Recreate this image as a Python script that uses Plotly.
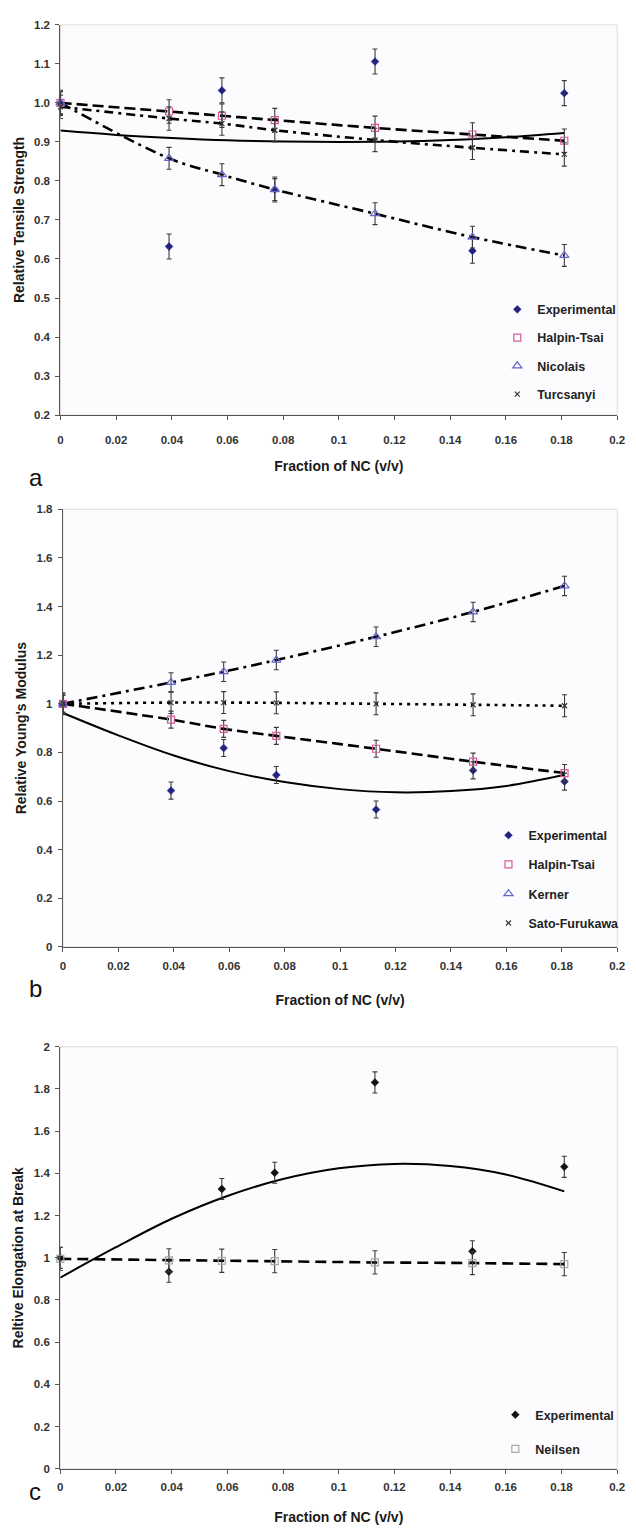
import plotly.graph_objects as go

# ---------------- data ----------------
x_frac = [0, 0.039, 0.058, 0.077, 0.113, 0.148, 0.181]
x_ticks = [0, 0.02, 0.04, 0.06, 0.08, 0.1, 0.12, 0.14, 0.16, 0.18, 0.2]

# panel a: Relative tensile strength
a_experimental = [1.0, 0.632, 1.032, 0.778, 1.106, 0.621, 1.025]
a_halpin_tsai = [1.0, 0.978, 0.967, 0.956, 0.936, 0.919, 0.903]
a_nicolais = [1.0, 0.858, 0.816, 0.778, 0.716, 0.656, 0.609]
a_turcsanyi = [0.99, 0.960, 0.947, 0.930, 0.905, 0.885, 0.868]
a_trend_x = [0, 0.02, 0.04, 0.06, 0.08, 0.10, 0.12, 0.14, 0.16, 0.181]
a_trend_y = [0.929, 0.918, 0.910, 0.904, 0.901, 0.900, 0.901, 0.905, 0.912, 0.923]

# panel b: Relative Young's modulus
b_experimental = [1.0, 0.643, 0.818, 0.707, 0.565, 0.726, 0.680]
b_halpin_tsai = [1.0, 0.935, 0.897, 0.868, 0.815, 0.762, 0.715]
b_kerner = [1.0, 1.088, 1.132, 1.180, 1.276, 1.378, 1.485]
b_sato_furukawa = [1.0, 1.005, 1.005, 1.004, 1.0, 0.996, 0.992]
b_trend_x = [0, 0.02, 0.04, 0.06, 0.08, 0.10, 0.12, 0.14, 0.16, 0.181]
b_trend_y = [0.962, 0.870, 0.787, 0.723, 0.678, 0.649, 0.636, 0.641, 0.662, 0.708]

# panel c: Relative elongation at break
c_experimental = [1.0, 0.934, 1.326, 1.403, 1.831, 1.031, 1.431]
c_neilsen = [0.995, 0.988, 0.986, 0.984, 0.978, 0.975, 0.970]
c_trend_x = [0, 0.02, 0.04, 0.06, 0.08, 0.10, 0.12, 0.14, 0.16, 0.181]
c_trend_y = [0.906, 1.05, 1.185, 1.293, 1.373, 1.424, 1.445, 1.435, 1.395, 1.315]

# ---------------- style ----------------
FONT = "Liberation Sans, Arial, sans-serif"
W, H = 636, 1535
ERR = "#3a3a3a"

def py(px):  # pixel row -> paper y
    return 1 - px / H

fig = go.Figure()

def line_trace(x, y, dash, xa, ya, width=2.6, shape="spline"):
    fig.add_trace(go.Scatter(
        x=x, y=y, mode="lines", xaxis=xa, yaxis=ya, showlegend=False,
        line=dict(color="black", width=width, dash=dash, shape=shape, smoothing=1.0),
        hoverinfo="skip"))

def marker_trace(x, y, name, symbol, color, size, err, xa, ya, legend, group,
                 lw=1.2):
    fig.add_trace(go.Scatter(
        x=x, y=y, mode="markers", name=name, xaxis=xa, yaxis=ya,
        legend=legend, legendgroup=group, cliponaxis=False,
        marker=dict(symbol=symbol, size=size, color=color,
                    line=dict(color=color, width=lw)),
        error_y=dict(type="constant", value=err, color=ERR, thickness=1.1, width=2.5)))

# ---- panel a ----
line_trace(a_trend_x, a_trend_y, "solid", "x", "y", width=2.0)
line_trace(x_frac, a_halpin_tsai, "11px,5px", "x", "y")
line_trace(x_frac, a_nicolais, "11px,5px,3px,5px", "x", "y")
line_trace(x_frac, a_turcsanyi, "9px,5px,3px,5px", "x", "y")
marker_trace(x_frac, a_experimental, "Experimental", "diamond", "#23237f", 6, 0.032, "x", "y", "legend", "a1", lw=0.5)
marker_trace(x_frac, a_halpin_tsai, "Halpin-Tsai", "square-open", "#d8589a", 7, 0.03, "x", "y", "legend", "a2")
marker_trace(x_frac, a_nicolais, "Nicolais", "triangle-up-open", "#6464cc", 8, 0.028, "x", "y", "legend", "a3")
marker_trace(x_frac, a_turcsanyi, "Turcsanyi", "x-thin-open", "#333333", 5, 0.03, "x", "y", "legend", "a4")

# ---- panel b ----
line_trace(b_trend_x, b_trend_y, "solid", "x2", "y2", width=2.0)
line_trace(x_frac, b_halpin_tsai, "11px,5px", "x2", "y2")
line_trace(x_frac, b_kerner, "11px,5px,3px,5px", "x2", "y2")
line_trace(x_frac, b_sato_furukawa, "3px,5px", "x2", "y2")
marker_trace(x_frac, b_experimental, "Experimental", "diamond", "#23237f", 6, 0.035, "x2", "y2", "legend2", "b1", lw=0.5)
marker_trace(x_frac, b_halpin_tsai, "Halpin-Tsai", "square-open", "#d8589a", 7, 0.035, "x2", "y2", "legend2", "b2")
marker_trace(x_frac, b_kerner, "Kerner", "triangle-up-open", "#6464cc", 8, 0.04, "x2", "y2", "legend2", "b3")
marker_trace(x_frac, b_sato_furukawa, "Sato-Furukawa", "x-thin-open", "#333333", 5, 0.045, "x2", "y2", "legend2", "b4")

# ---- panel c ----
line_trace(c_trend_x, c_trend_y, "solid", "x3", "y3", width=2.0)
line_trace(x_frac, c_neilsen, "11px,6px", "x3", "y3", shape="linear")
marker_trace(x_frac, c_experimental, "Experimental", "diamond", "#111111", 6, 0.05, "x3", "y3", "legend3", "c1", lw=0.5)
marker_trace(x_frac, c_neilsen, "Neilsen", "square-open", "#a8a8a8", 7, 0.055, "x3", "y3", "legend3", "c2")

# ---------------- axes ----------------
xr = 625 / W
panels = [
    # (suffix, top px, bottom px, left px, yrange, dtick, tickformat, ytitle, xtick standoff, xtitle standoff)
    ("", 19, 412.3, 58.5, [0.2, 1.2], 0.1, ".1f", "Relative Tensile Strength", 10, 16),
    ("2", 507.3, 948.3, 61, [0, 1.8], 0.2, "", "Relative Young's Modulus", 4, 24),
    ("3", 1049, 1474.3, 58.3, [0, 2], 0.2, "", "Reltive Elongation at Break", 3, 20),
]

tickfont = dict(family=FONT, size=11.5, color="#333333", weight="bold")
titlefont = dict(family=FONT, size=14, color="#1a1a1a", weight="bold")

layout = dict(
    width=W, height=H, margin=dict(l=0, r=0, t=0, b=0),
    paper_bgcolor="white", plot_bgcolor="#fcfcfe", showlegend=True,
)
shapes = []
annotations = []
for suf, top, bot, left, yr, dt, tf, ytitle, xstand, xtstand in panels:
    layout["xaxis" + suf] = dict(
        domain=[left / W, xr], anchor="y" + suf, range=[0, 0.2], tickvals=x_ticks,
        ticktext=[("%g" % v) for v in x_ticks],
        showgrid=False, zeroline=False, showline=True, linecolor="#555555", linewidth=1.3,
        ticks="outside", ticklen=4, tickcolor="#555555", tickfont=tickfont,
        ticklabelstandoff=xstand,
        title=dict(text="Fraction of NC (v/v)", font=titlefont, standoff=xtstand),
    )
    layout["yaxis" + suf] = dict(
        domain=[py(bot), py(top)], anchor="x" + suf, range=yr, dtick=dt, tick0=0,
        tickformat=tf if tf else None,
        showgrid=False, zeroline=False, showline=True, linecolor="#555555", linewidth=1.3,
        ticks="outside", ticklen=4, tickcolor="#555555", tickfont=tickfont,
        ticklabelstandoff=3,
        title=dict(text=ytitle, font=titlefont, standoff=6),
    )
    shapes.append(dict(type="rect", xref="x" + suf + " domain", yref="y" + suf + " domain",
                       x0=0, x1=1, y0=0, y1=1,
                       line=dict(color="#e2dada", width=1), layer="below"))

for lab, ypx in (("a", 460), ("b", 990), ("c", 1513)):
    annotations.append(dict(text=lab, x=24 / W, y=py(ypx), xref="paper", yref="paper",
                            showarrow=False, font=dict(family=FONT, size=24, color="#111")))

legfont = dict(family=FONT, size=12.5, color="#222222", weight="bold")
layout["legend"] = dict(x=503 / W, y=py(291), xanchor="left", yanchor="top",
                        bgcolor="rgba(0,0,0,0)", font=legfont, tracegroupgap=9,
                        itemwidth=30)
layout["legend2"] = dict(x=494 / W, y=py(821), xanchor="left", yanchor="top",
                         bgcolor="rgba(0,0,0,0)", font=legfont, tracegroupgap=10,
                         itemwidth=30)
layout["legend3"] = dict(x=501 / W, y=py(1405), xanchor="left", yanchor="top",
                         bgcolor="rgba(0,0,0,0)", font=legfont, tracegroupgap=15,
                         itemwidth=30)
layout["shapes"] = shapes
layout["annotations"] = annotations
fig.update_layout(**layout)

fig.write_html("out.html")
